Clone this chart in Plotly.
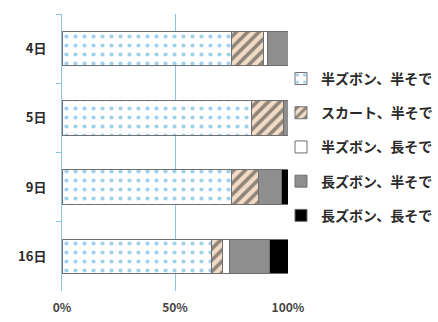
import plotly.graph_objects as go

# Clothing share (%) per day
days = ["4日", "5日", "9日", "16日"]
series_names = ["半ズボン、半そで", "スカート、半そで", "半ズボン、長そで", "長ズボン、半そで", "長ズボン、長そで"]
short_pants_short_sleeve = [75, 84, 75, 66]
skirt_short_sleeve = [14, 14, 12, 5]
short_pants_long_sleeve = [2, 0, 0, 3]
long_pants_short_sleeve = [9, 2, 10, 18]
long_pants_long_sleeve = [0, 0, 3, 8]
x_ticks = [0, 50, 100]
x_tick_labels = ["0%", "50%", "100%"]

values = [
    short_pants_short_sleeve,
    skirt_short_sleeve,
    short_pants_long_sleeve,
    long_pants_short_sleeve,
    long_pants_long_sleeve,
]

styles = [
    dict(color="white", pattern=dict(shape=".", fgcolor="#3f9fdc", bgcolor="white", size=9, solidity=0.17)),
    dict(color="#f2dcc6", pattern=dict(shape="/", fgcolor="#2e2e2e", bgcolor="#f2dcc6", size=8, solidity=0.45)),
    dict(color="white"),
    dict(color="#8e8e8e"),
    dict(color="#000000"),
]

fig = go.Figure()
for name, vals, st in zip(series_names, values, styles):
    fig.add_trace(go.Bar(
        y=days, x=vals, name=name, orientation="h",
        legendgroup=name,
        marker=dict(line=dict(color="#6f6f6f", width=1), **st),
    ))

fig.update_layout(
    width=438, height=322,
    barmode="stack", bargap=0.5,
    margin=dict(l=62, r=150, t=14, b=31, autoexpand=False),
    paper_bgcolor="white", plot_bgcolor="white",
    font=dict(family="Noto Sans CJK JP", color="#333333"),
    legend=dict(
        x=0.969, xanchor="left", y=0.52, yanchor="middle",
        bgcolor="rgba(0,0,0,0)",
        font=dict(size=14, family="Noto Sans CJK JP", color="#2a2a2a", weight="bold"),
        tracegroupgap=13, traceorder="grouped",
        itemwidth=30,
    ),
    showlegend=True,
)
fig.update_xaxes(
    range=[0, 100], tickvals=x_ticks, ticktext=x_tick_labels,
    showgrid=True, gridcolor="#8cc4e4", gridwidth=1,
    zeroline=False, showline=False,
    tickfont=dict(size=12, color="#444444", weight="bold"),
    ticklabelstandoff=8,
    fixedrange=True,
)
fig.update_yaxes(
    autorange="reversed", categoryorder="array", categoryarray=days,
    showline=True, linecolor="#8cc4e4", linewidth=1,
    ticks="outside", ticklen=5, tickcolor="#8cc4e4", tickson="boundaries",
    tickfont=dict(size=13, color="#2a2a2a", weight="bold"),
    ticklabelstandoff=12,
    showgrid=False,
)

fig.write_html("out.html")
